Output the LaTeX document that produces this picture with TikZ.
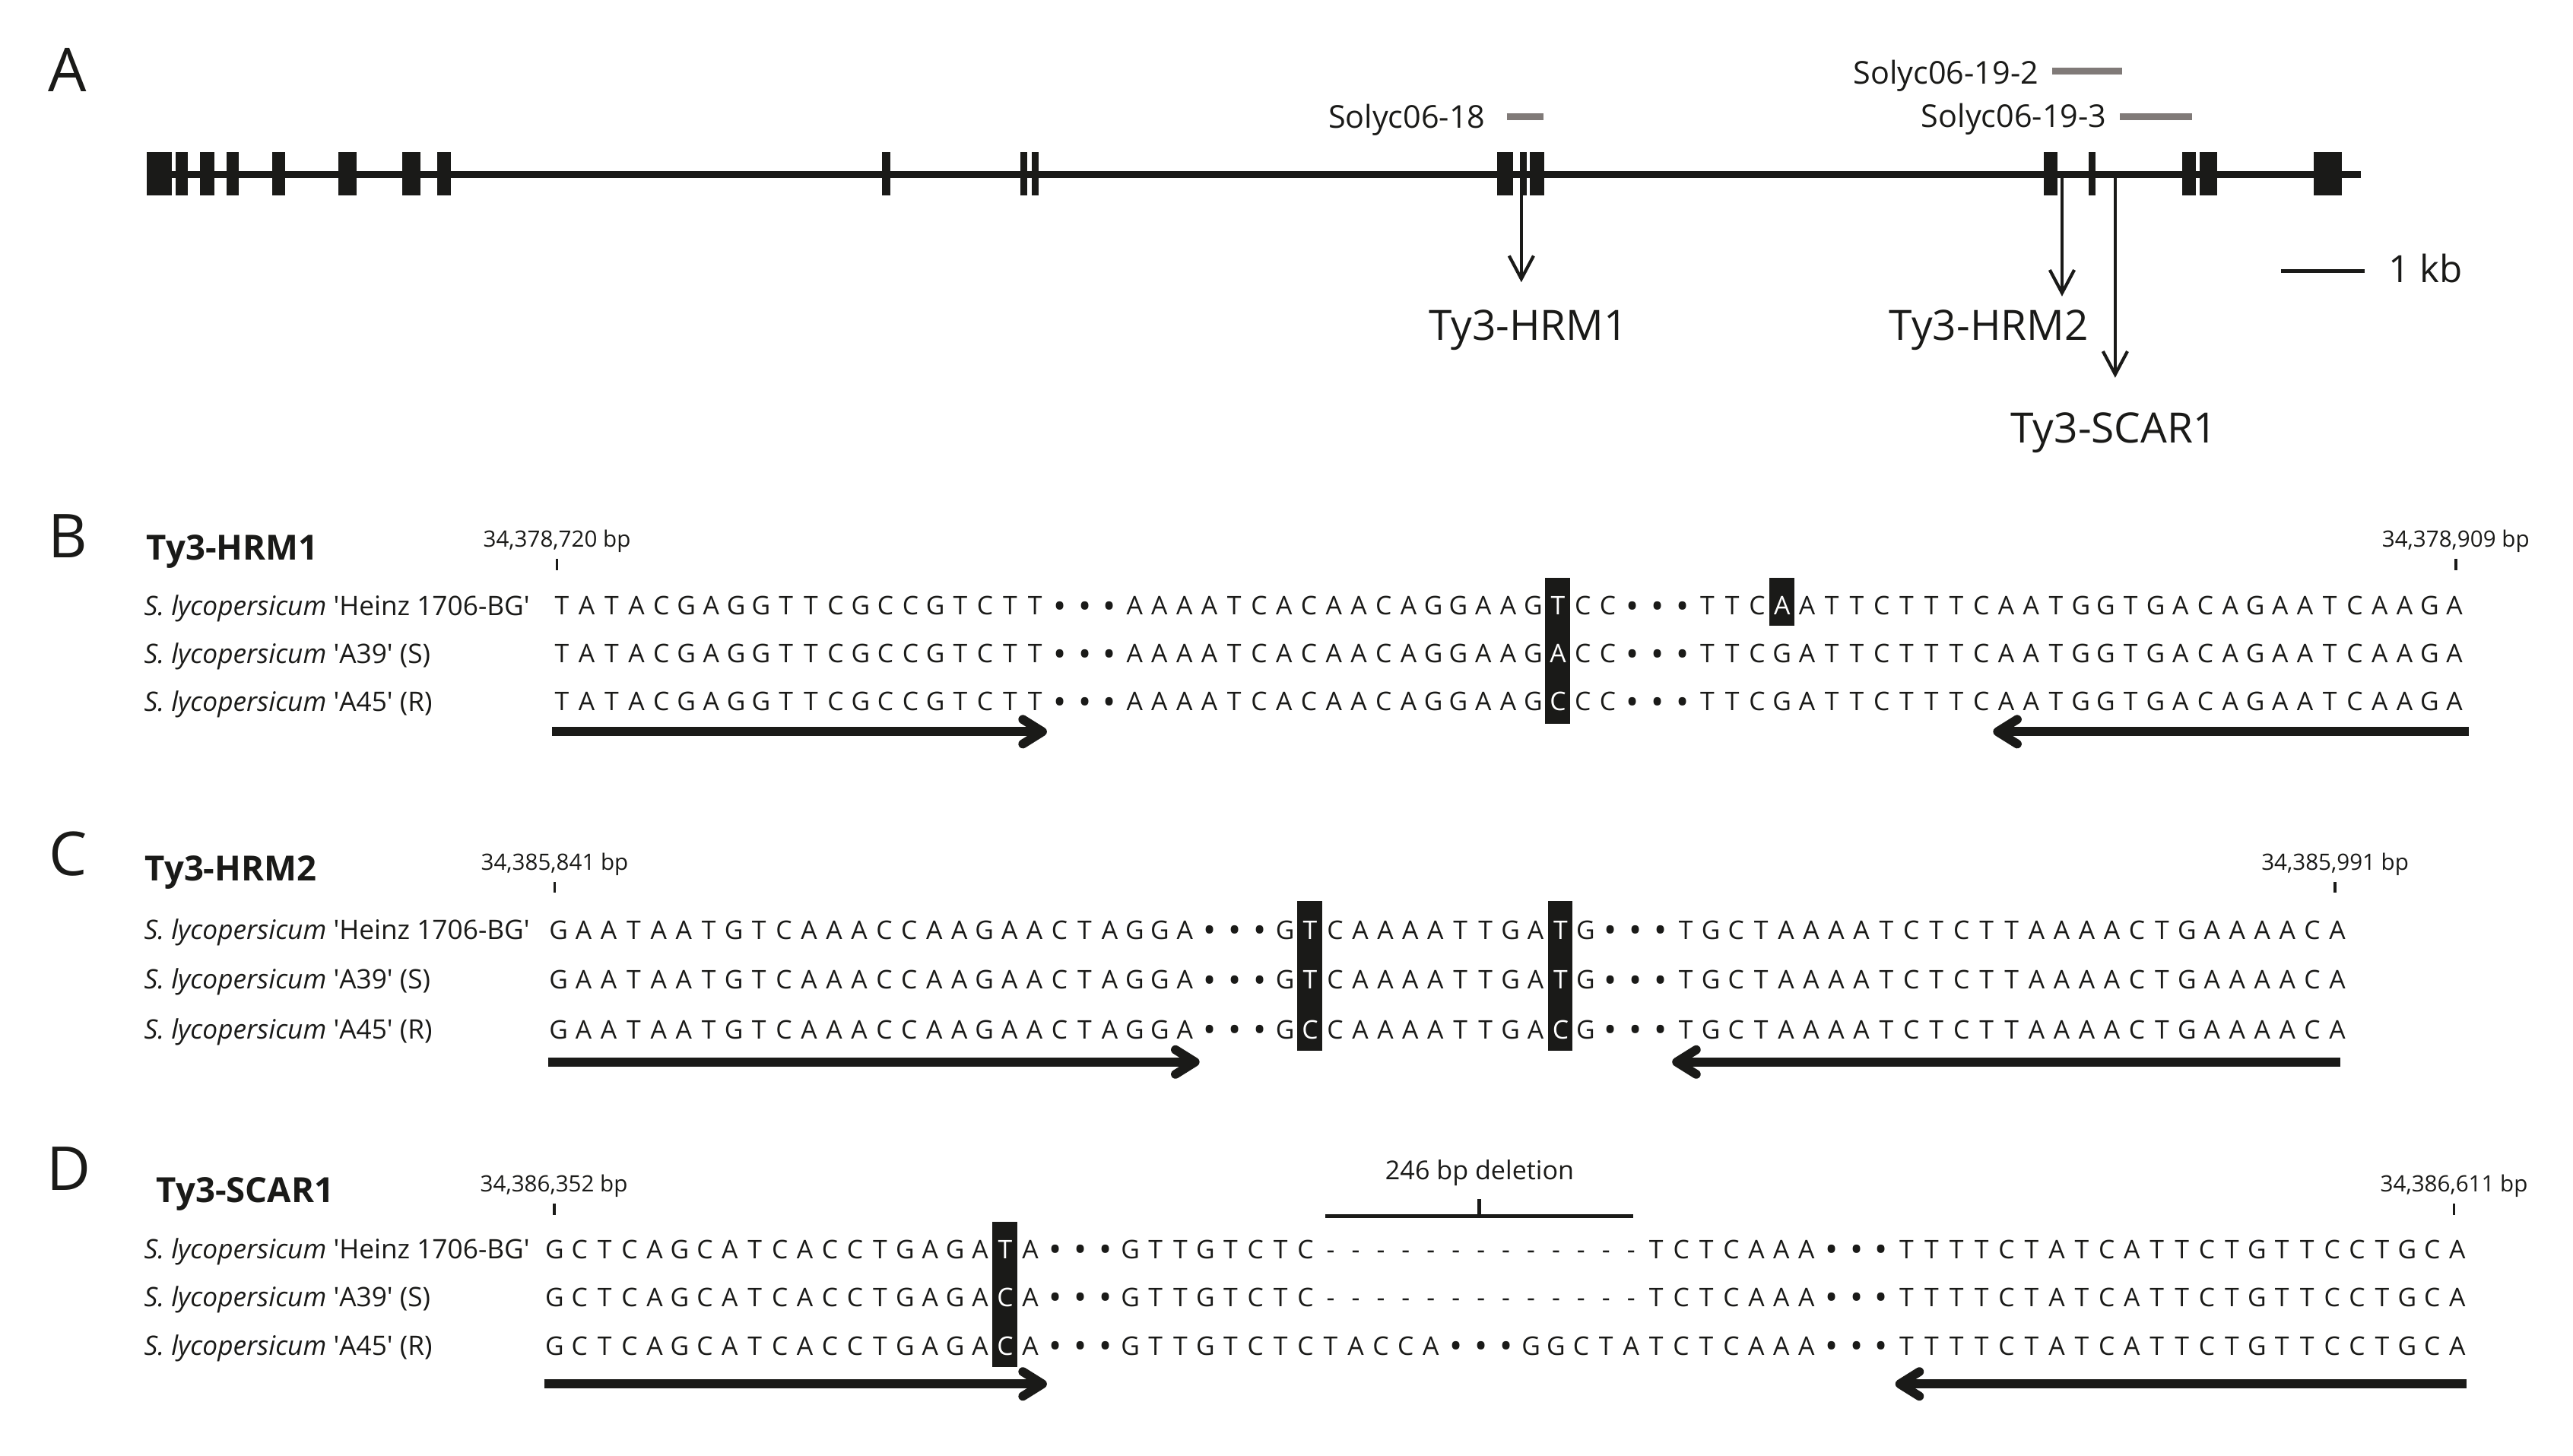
\documentclass[tikz,border=0pt]{standalone}
\usepackage{fontspec}
\setmainfont{Open Sans}
\usetikzlibrary{arrows.meta}
\definecolor{ink}{RGB}{26,26,24}
\definecolor{barg}{RGB}{128,122,120}
\newlength\cw
\def\dnamap#1{\if.#1\raisebox{-0.13em}{\scalebox{1.35}{\textbullet}}\else\if-#1-\else\ifnum`#1>90\relax\textcolor{white}{\uppercase{#1}}\else#1\fi\fi\fi}
\def\dnaloop#1{\ifx\relax#1\else\makebox[\cw]{\dnamap{#1}}\expandafter\dnaloop\fi}
\newcommand\dna[1]{\dnaloop#1\relax}
\newcommand\apos{\XeTeXglyph\XeTeXcharglyph"27\relax}
\newcommand\slyc{\textit{S. lycopersicum}}
\begin{document}
\begin{tikzpicture}[x=0.02cm,y=-0.02cm,
  plet/.style={font=\fontsize{21}{25}\selectfont, inner sep=0, anchor=base, text=ink},
  tylab/.style={font=\fontsize{14.5}{17}\selectfont, inner sep=0, anchor=base, text=ink},
  kblab/.style={font=\fontsize{13}{15}\selectfont, inner sep=0, anchor=base, text=ink},
  sollab/.style={font=\fontsize{10.9}{13}\selectfont, inner sep=0, anchor=base east, text=ink},
  ptitle/.style={font=\bfseries\fontsize{12}{14}\selectfont, inner sep=0, anchor=base west, text=ink},
  rowlab/.style={font=\fontsize{9.3}{11}\selectfont, inner sep=0, anchor=base west, text=ink},
  seqtxt/.style={font=\fontsize{8.9}{10}\selectfont, inner sep=0, anchor=base west, text=ink},
  poslab/.style={font=\fontsize{7.8}{9}\selectfont, inner sep=0, anchor=base, text=ink},
  dellab/.style={font=\fontsize{9}{11}\selectfont, inner sep=0, anchor=base, text=ink},
  exon/.style={fill=ink},
  gene/.style={line width=2.4pt, draw=ink},
  gbar/.style={line width=2.4pt, draw=barg},
  ptr/.style={line width=1.1pt, draw=ink, -{Straight Barb[length=8pt,width=8.5pt]}},
  primer/.style={line width=3.1pt, draw=ink, -{Straight Barb[length=6.8pt,width=8.5pt,round]}},
  tickl/.style={line width=1pt, draw=ink},
  hlbox/.style={fill=ink},
  scalebar/.style={line width=1.2pt, draw=ink},
  brack/.style={line width=1.3pt, draw=ink}]
\useasboundingbox[fill=white] (0,0) rectangle (1568,887);

% ---------------- Panel A ----------------
\node[plet] (lA) at (41,55.6) {A};
\coordinate (gs) at (91.9,106.4);
\coordinate (ge) at (1438.7,106.4);
\draw[gene] (gs) -- (ge);
\foreach \a/\b in {89.4/104.5, 107/114.5, 122/130.6, 138.2/145.6, 165.8/173.8, 206/217.5, 245.1/256.2, 266.2/274.8, 537.5/542.4, 621.9/625.9, 628.9/632.9, 912.2/922.1, 926.1/930.6, 932.1/941.1, 1245.6/1254, 1272.8/1277.1, 1330/1338, 1340.4/1351.3, 1409.9/1427.2}
  \fill[exon] (\a,92.7) rectangle (\b,119);

\node[sollab] (s18) at (905.5,77.9) {Solyc06-18};
\draw[gbar] (918.2,71.3) -- (940.6,71.3);
\node[sollab] (s192) at (1242.6,51.3) {Solyc06-19-2};
\draw[gbar] (1250.8,43.5) -- (1293.3,43.5);
\node[sollab] (s193) at (1284,77.8) {Solyc06-19-3};
\draw[gbar] (1292,71.2) -- (1336,71.2);

\coordinate (a1s) at (927.1,119.2);
\coordinate (a1e) at (927.1,172);
\coordinate (a2s) at (1256.6,108.6);
\coordinate (a2e) at (1256.6,180.6);
\coordinate (a3s) at (1289,108.6);
\coordinate (a3e) at (1289,230.2);
\draw[ptr] (a1s) -- (a1e);
\draw[ptr] (a2s) -- (a2e);
\draw[ptr] (a3s) -- (a3e);
\node[tylab] (t1) at (931.3,207.5) {Ty3-HRM1};
\node[tylab] (t2) at (1212,207.5) {Ty3-HRM2};
\node[tylab] (t3) at (1288.2,269.9) {Ty3-SCAR1};

\coordinate (k1) at (1390,165.2);
\coordinate (k2) at (1441,165.2);
\draw[scalebar] (k1) -- (k2);
\node[kblab] (kb) at (1478.3,171.9) {1 kb};

% ---------------- Panel B ----------------
\node[plet] (lB) at (41.3,339.8) {B};
\node[ptitle] (tB) at (89,341.4) {Ty3-HRM1};
\node[poslab] (pB1) at (339.4,333.4) {34,378,720 bp};
\coordinate (pB1a) at (339.4,340.6); \coordinate (pB1b) at (339.4,347.3);
\draw[tickl] (pB1a) -- (pB1b);
\node[poslab] (pB2) at (1496.5,333.4) {34,378,909 bp};
\coordinate (pB2a) at (1496.5,340.6); \coordinate (pB2b) at (1496.5,347.3);
\draw[tickl] (pB2a) -- (pB2b);
\fill[hlbox] (941.7,352.2) rectangle (956.7,441);
\fill[hlbox] (1078.3,352.2) rectangle (1093.3,381.5);
\node[rowlab] (rB1) at (87.5,374.9) {\slyc{} \apos Heinz 1706-BG\apos};
\node[rowlab] (rB2) at (87.5,404.1) {\slyc{} \apos A39\apos{} (S)};
\node[rowlab] (rB3) at (87.5,433.3) {\slyc{} \apos A45\apos{} (R)};
\node[seqtxt] (sB1) at (334.41,374.8) {\setlength\cw{8.638pt}\dna{TATACGAGGTTCGCCGTCTT...AAAATCACAACAGGAAGtCC...TTCaATTCTTTCAATGGTGACAGAATCAAGA}};
\node[seqtxt] (sB2) at (334.41,404.0) {\setlength\cw{8.638pt}\dna{TATACGAGGTTCGCCGTCTT...AAAATCACAACAGGAAGaCC...TTCGATTCTTTCAATGGTGACAGAATCAAGA}};
\node[seqtxt] (sB3) at (334.41,433.2) {\setlength\cw{8.638pt}\dna{TATACGAGGTTCGCCGTCTT...AAAATCACAACAGGAAGcCC...TTCGATTCTTTCAATGGTGACAGAATCAAGA}};
\coordinate (fB1) at (336.6,445.9); \coordinate (fB2) at (638,445.9);
\coordinate (rB1s) at (1504.5,445.9); \coordinate (rB1e) at (1214.6,445.9);
\draw[primer] (fB1) -- (fB2);
\draw[primer] (rB1s) -- (rB1e);

% ---------------- Panel C ----------------
\node[plet] (lC) at (41.4,533.7) {C};
\node[ptitle] (tC) at (88,536.8) {Ty3-HRM2};
\node[poslab] (pC1) at (338,530.2) {34,385,841 bp};
\coordinate (pC1a) at (338,537.5); \coordinate (pC1b) at (338,543.9);
\draw[tickl] (pC1a) -- (pC1b);
\node[poslab] (pC2) at (1423,530.2) {34,385,991 bp};
\coordinate (pC2a) at (1423,537.5); \coordinate (pC2b) at (1423,543.9);
\draw[tickl] (pC2a) -- (pC2b);
\fill[hlbox] (790.6,549) rectangle (805.6,640.5);
\fill[hlbox] (943.3,549) rectangle (958.3,640.5);
\node[rowlab] (rC1) at (87.5,572.5) {\slyc{} \apos Heinz 1706-BG\apos};
\node[rowlab] (rC2) at (87.5,602.8) {\slyc{} \apos A39\apos{} (S)};
\node[rowlab] (rC3) at (87.5,633.1) {\slyc{} \apos A45\apos{} (R)};
\node[seqtxt] (sC1) at (332.37,572.4) {\setlength\cw{8.690pt}\dna{GAATAATGTCAAACCAAGAACTAGGA...GtCAAAATTGAtG...TGCTAAAATCTCTTAAAACTGAAAACA}};
\node[seqtxt] (sC2) at (332.37,602.7) {\setlength\cw{8.690pt}\dna{GAATAATGTCAAACCAAGAACTAGGA...GtCAAAATTGAtG...TGCTAAAATCTCTTAAAACTGAAAACA}};
\node[seqtxt] (sC3) at (332.37,633.0) {\setlength\cw{8.690pt}\dna{GAATAATGTCAAACCAAGAACTAGGA...GcCAAAATTGAcG...TGCTAAAATCTCTTAAAACTGAAAACA}};
\coordinate (fC1) at (334,647.2); \coordinate (fC2) at (731,647.2);
\coordinate (rC1s) at (1426,647.2); \coordinate (rC1e) at (1019,647.2);
\draw[primer] (fC1) -- (fC2);
\draw[primer] (rC1s) -- (rC1e);

% ---------------- Panel D ----------------
\node[plet] (lD) at (41.9,725.2) {D};
\node[ptitle] (tD) at (95,733) {Ty3-SCAR1};
\node[poslab] (pD1) at (337.6,726.4) {34,386,352 bp};
\coordinate (pD1a) at (337.6,733.7); \coordinate (pD1b) at (337.6,740.2);
\draw[tickl] (pD1a) -- (pD1b);
\node[poslab] (pD2) at (1495.5,726.4) {34,386,611 bp};
\coordinate (pD2a) at (1495.5,733.7); \coordinate (pD2b) at (1495.5,740.2);
\draw[tickl] (pD2a) -- (pD2b);
\node[dellab] (del) at (901.7,719) {246 bp deletion};
\coordinate (dl) at (807.7,741); \coordinate (dr) at (995.5,741);
\coordinate (dm) at (901.6,741); \coordinate (dt) at (901.6,730.9);
\draw[brack] (dl) -- (dr);
\draw[brack] (dm) -- (dt);
\fill[hlbox] (604.8,744.5) rectangle (619.8,833.3);
\node[rowlab] (rD1) at (87.5,767.1) {\slyc{} \apos Heinz 1706-BG\apos};
\node[rowlab] (rD2) at (87.5,796.4) {\slyc{} \apos A39\apos{} (S)};
\node[rowlab] (rD3) at (87.5,825.8) {\slyc{} \apos A45\apos{} (R)};
\node[seqtxt] (sD1) at (329.97,767.0) {\setlength\cw{8.684pt}\dna{GCTCAGCATCACCTGAGAtA...GTTGTCTC-------------TCTCAAA...TTTTCTATCATTCTGTTCCTGCA}};
\node[seqtxt] (sD2) at (329.97,796.3) {\setlength\cw{8.684pt}\dna{GCTCAGCATCACCTGAGAcA...GTTGTCTC-------------TCTCAAA...TTTTCTATCATTCTGTTCCTGCA}};
\node[seqtxt] (sD3) at (329.97,825.7) {\setlength\cw{8.684pt}\dna{GCTCAGCATCACCTGAGAcA...GTTGTCTCTACCA...GGCTATCTCAAA...TTTTCTATCATTCTGTTCCTGCA}};
\coordinate (fD1) at (331.6,843.4); \coordinate (fD2) at (638,843.4);
\coordinate (rD1s) at (1503,843.4); \coordinate (rD1e) at (1155,843.4);
\draw[primer] (fD1) -- (fD2);
\draw[primer] (rD1s) -- (rD1e);
\end{tikzpicture}
\end{document}
